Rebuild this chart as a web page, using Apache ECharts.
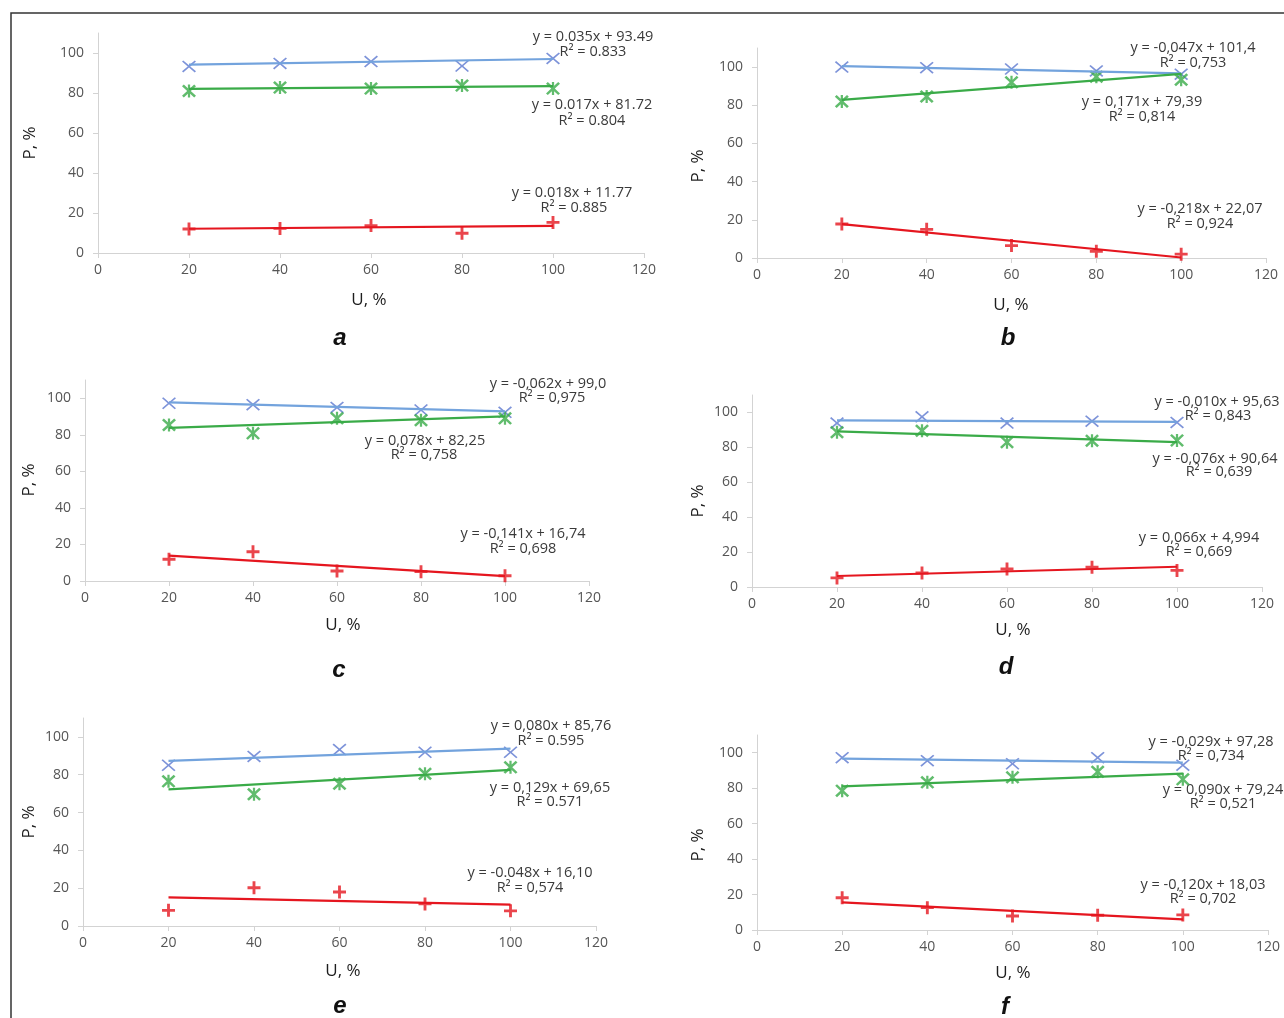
<!DOCTYPE html>
<html><head><meta charset="utf-8">
<script src="https://cdn.jsdelivr.net/npm/echarts@6/dist/echarts.min.js"></script>
<style>html,body{margin:0;padding:0;background:#fff}#c{width:1284px;height:1018px}</style>
</head><body><div id="c"></div>
<script>
// ---- data ----
const U = [20, 40, 60, 80, 100];
const xTicks = [0, 20, 40, 60, 80, 100, 120];
const yTicks = [0, 20, 40, 60, 80, 100];
const panelLetters = ['a', 'b', 'c', 'd', 'e', 'f'];
const xAxisTitle = 'U, %';
const yAxisTitle = 'P, %';

const blueA = [93.3, 94.8, 95.7, 93.5, 97.3];
const greenA = [81.0, 82.7, 82.2, 83.7, 82.2];
const redA = [12.0, 12.3, 13.7, 9.9, 15.3];
const slopeA = [0.035, 0.017, 0.018];
const interceptA = [93.49, 81.72, 11.77];
const eqA = ['y = 0.035x + 93.49', 'y = 0.017x + 81.72', 'y = 0.018x + 11.77'];
const r2A = ['R² = 0.833', 'R² = 0.804', 'R² = 0.885'];

const blueB = [100.0, 99.7, 99.0, 98.0, 96.3];
const greenB = [82.0, 84.6, 92.0, 95.0, 93.4];
const redB = [17.8, 15.0, 6.5, 3.5, 2.0];
const slopeB = [-0.047, 0.171, -0.218];
const interceptB = [101.4, 79.39, 22.07];
const eqB = ['y = -0,047x + 101,4', 'y = 0,171x + 79,39', 'y = -0,218x + 22,07'];
const r2B = ['R² = 0,753', 'R² = 0,814', 'R² = 0,924'];

const blueC = [97.3, 96.5, 95.0, 93.6, 92.3];
const greenC = [85.4, 80.8, 89.0, 88.0, 89.0];
const redC = [11.9, 16.0, 5.5, 5.1, 2.9];
const slopeC = [-0.062, 0.078, -0.141];
const interceptC = [99.0, 82.25, 16.74];
const eqC = ['y = -0,062x + 99,0', 'y = 0,078x + 82,25', 'y = -0,141x + 16,74'];
const r2C = ['R² = 0,975', 'R² = 0,758', 'R² = 0,698'];

const blueD = [93.9, 97.5, 93.9, 95.0, 94.3];
const greenD = [88.7, 89.5, 83.0, 83.8, 84.0];
const redD = [5.2, 8.0, 10.3, 11.3, 9.5];
const slopeD = [-0.010, -0.076, 0.066];
const interceptD = [95.63, 90.64, 4.994];
const eqD = ['y = -0,010x + 95,63', 'y = -0,076x + 90,64', 'y = 0,066x + 4,994'];
const r2D = ['R² = 0,843', 'R² = 0,639', 'R² = 0,669'];

const blueE = [85.0, 89.7, 93.3, 91.9, 91.9];
const greenE = [76.5, 69.7, 75.2, 80.5, 83.9];
const redE = [8.3, 20.2, 18.0, 11.7, 8.0];
const slopeE = [0.080, 0.129, -0.048];
const interceptE = [85.76, 69.65, 16.10];
const eqE = ['y = 0,080x + 85,76', 'y = 0,129x + 69,65', 'y = -0.048x + 16,10'];
const r2E = ['R² = 0.595', 'R² = 0.571', 'R² = 0,574'];

const blueF = [97.2, 95.5, 93.8, 97.2, 93.0];
const greenF = [78.6, 83.3, 86.1, 89.3, 85.0];
const redF = [18.2, 12.6, 7.9, 8.3, 8.5];
const slopeF = [-0.029, 0.090, -0.120];
const interceptF = [97.28, 79.24, 18.03];
const eqF = ['y = -0,029x + 97,28', 'y = 0,090x + 79,24', 'y = -0,120x + 18,03'];
const r2F = ['R² = 0,734', 'R² = 0,521', 'R² = 0,702'];

// ---- layout / style ----
const panels = [
  {blue: blueA, green: greenA, red: redA, slope: slopeA, icpt: interceptA, eq: eqA, r2: r2A},
  {blue: blueB, green: greenB, red: redB, slope: slopeB, icpt: interceptB, eq: eqB, r2: r2B},
  {blue: blueC, green: greenC, red: redC, slope: slopeC, icpt: interceptC, eq: eqC, r2: r2C},
  {blue: blueD, green: greenD, red: redD, slope: slopeD, icpt: interceptD, eq: eqD, r2: r2D},
  {blue: blueE, green: greenE, red: redE, slope: slopeE, icpt: interceptE, eq: eqE, r2: r2E},
  {blue: blueF, green: greenF, red: redF, slope: slopeF, icpt: interceptF, eq: eqF, r2: r2F}
];
const boxes = [
  {left: 98, right: 640, top: 33, bottom: 765, letter: [340, 338], xName: [369, 300], yName: [30, 143],
   eqPos: [[593, 37], [592, 105], [572, 193]], r2Pos: [[593, 52], [592, 121], [574, 208]]},
  {left: 757, right: 18, top: 48, bottom: 760, letter: [1008, 338], xName: [1011, 305], yName: [698, 166],
   eqPos: [[1193, 48], [1142, 102], [1200, 209]], r2Pos: [[1193, 63], [1142, 117], [1200, 224]]},
  {left: 85, right: 695, top: 380, bottom: 437, letter: [339, 670], xName: [343, 625], yName: [29, 480],
   eqPos: [[548, 384], [425, 441], [523, 534]], r2Pos: [[552, 398], [424, 455], [523, 549]]},
  {left: 752, right: 22, top: 395, bottom: 431, letter: [1006, 667], xName: [1013, 630], yName: [698, 501],
   eqPos: [[1217, 402], [1215, 459], [1199, 538]], r2Pos: [[1218, 416], [1219, 472], [1199, 552]]},
  {left: 83, right: 688, top: 718, bottom: 92, letter: [340, 1006], xName: [343, 971], yName: [29, 822],
   eqPos: [[551, 726], [550, 788], [530, 873]], r2Pos: [[551, 741], [550, 802], [530, 888]]},
  {left: 757, right: 16, top: 735, bottom: 88, letter: [1005, 1007], xName: [1013, 973], yName: [698, 845],
   eqPos: [[1211, 742], [1223, 790], [1203, 885]], r2Pos: [[1211, 756], [1223, 804], [1203, 899]]}
];

const FONT = '"Open Sans", "Noto Sans", sans-serif';
const AXIS_COLOR = '#d3d3d3';
const LABEL_COLOR = '#555555';
const BLUE_MK = '#5d78cf', BLUE_LN = '#73a3dd';
const GREEN = '#3aab48';
const RED = '#e5161f';

const SYM_X = 'path://M0,9 L9,0 L50,41 L91,0 L100,9 L59,50 L100,91 L91,100 L50,59 L9,100 L0,91 L41,50 Z';
const SYM_STAR = 'path://M0,13 L13,0 L42,29 L42,0 L58,0 L58,29 L87,0 L100,13 L63,50 L100,87 L87,100 L58,71 L58,100 L42,100 L42,71 L13,100 L0,87 L37,50 Z';
const SYM_PLUS = 'path://M39,0 L61,0 L61,39 L100,39 L100,61 L61,61 L61,100 L39,100 L39,61 L0,61 L0,39 L39,39 Z';

const grid = [], xAxis = [], yAxis = [], series = [], graphic = [];

graphic.push({type: 'polyline', shape: {points: [[11, 1018], [11, 13], [1284, 13]]},
  style: {stroke: '#333', lineWidth: 1.5, fill: null}, silent: true});

panels.forEach((p, i) => {
  const b = boxes[i];
  grid.push({left: b.left, right: b.right, top: b.top, bottom: b.bottom, containLabel: false});
  xAxis.push({type: 'value', gridIndex: i, min: 0, max: 120, interval: 20,
    axisLine: {show: true, lineStyle: {color: AXIS_COLOR, width: 1}},
    axisTick: {show: true, length: 5, lineStyle: {color: AXIS_COLOR}},
    axisLabel: {color: LABEL_COLOR, fontSize: 14, fontFamily: FONT, margin: 10, customValues: xTicks},
    splitLine: {show: false}});
  yAxis.push({type: 'value', gridIndex: i, min: 0, max: 110, interval: 20,
    axisLine: {show: true, onZero: false, lineStyle: {color: AXIS_COLOR, width: 1}},
    axisTick: {show: true, length: 5, lineStyle: {color: AXIS_COLOR}, customValues: yTicks},
    axisLabel: {color: LABEL_COLOR, fontSize: 14, fontFamily: FONT, margin: 14, customValues: yTicks,
      formatter: v => (v > 100 ? '' : String(v))},
    splitLine: {show: false}});

  const colsLine = [BLUE_LN, GREEN, RED];
  [0, 1, 2].forEach(k => {
    series.push({type: 'line', xAxisIndex: i, yAxisIndex: i, symbol: 'none', silent: true, animation: false,
      lineStyle: {color: colsLine[k], width: 2.2},
      data: [[U[0], p.slope[k] * U[0] + p.icpt[k]], [U[U.length - 1], p.slope[k] * U[U.length - 1] + p.icpt[k]]]});
  });
  series.push({type: 'scatter', xAxisIndex: i, yAxisIndex: i, symbol: SYM_X, symbolSize: [14, 12], animation: false,
    itemStyle: {color: BLUE_MK}, data: U.map((u, j) => [u, p.blue[j]])});
  series.push({type: 'scatter', xAxisIndex: i, yAxisIndex: i, symbol: SYM_STAR, symbolSize: [14, 13], animation: false,
    itemStyle: {color: GREEN}, data: U.map((u, j) => [u, p.green[j]])});
  series.push({type: 'scatter', xAxisIndex: i, yAxisIndex: i, symbol: SYM_PLUS, symbolSize: [13, 13], animation: false,
    itemStyle: {color: RED}, data: U.map((u, j) => [u, p.red[j]])});

  // equation annotations
  [0, 1, 2].forEach(k => {
    graphic.push({type: 'text', x: b.eqPos[k][0], y: b.eqPos[k][1], silent: true,
      style: {text: p.eq[k], fill: '#3a3a3a', font: '14.5px ' + FONT, align: 'center', verticalAlign: 'middle'}});
    graphic.push({type: 'text', x: b.r2Pos[k][0], y: b.r2Pos[k][1], silent: true,
      style: {text: p.r2[k], fill: '#3a3a3a', font: '14.5px ' + FONT, align: 'center', verticalAlign: 'middle'}});
  });
  // axis titles
  graphic.push({type: 'text', x: b.xName[0], y: b.xName[1], silent: true,
    style: {text: xAxisTitle, fill: '#1e1e1e', font: '17px ' + FONT, align: 'center', verticalAlign: 'middle'}});
  graphic.push({type: 'text', x: b.yName[0], y: b.yName[1], rotation: Math.PI / 2, silent: true,
    style: {text: yAxisTitle, fill: '#1e1e1e', font: '17px ' + FONT, align: 'center', verticalAlign: 'middle'}});
  // panel letter
  graphic.push({type: 'text', x: b.letter[0], y: b.letter[1], silent: true,
    style: {text: panelLetters[i], fill: '#111', font: 'italic bold 24px "Liberation Sans", Arial, sans-serif',
      align: 'center', verticalAlign: 'middle'}});
});

const chart = echarts.init(document.getElementById('c'), null, {renderer: 'canvas'});
chart.setOption({backgroundColor: '#fff', animation: false, grid, xAxis, yAxis, series, graphic});
</script>
</body></html>
